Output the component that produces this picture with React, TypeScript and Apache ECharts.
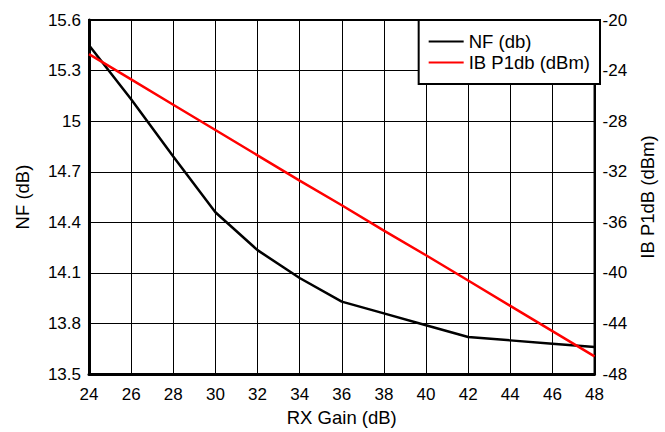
import React, { useEffect, useRef } from "react";
import * as echarts from "echarts";

const gains = [24, 26, 28, 30, 32, 34, 36, 38, 40, 42, 44, 46, 48];
const nfValues = [15.45, 15.13, 14.79, 14.46, 14.235, 14.07, 13.93, 13.86, 13.79, 13.72, 13.7, 13.68, 13.66];
const p1dbValues = [-22.7, -24.7, -26.7, -28.7, -30.7, -32.7, -34.65, -36.65, -38.6, -40.6, -42.6, -44.6, -46.6];
const seriesNames = ["NF (db)", "IB P1db (dBm)"];

const FONT = "Liberation Sans, Arial, Helvetica, sans-serif";
const FS = 17;
const FT = 18.5;

export default function App() {
  const ref = useRef<HTMLDivElement>(null);
  useEffect(() => {
    const chart = echarts.init(ref.current!, null, { renderer: "svg" });
    chart.setOption({
      animation: false,
      backgroundColor: "#ffffff",
      textStyle: { fontFamily: FONT, color: "#000" },
      grid: {
        left: 89,
        right: 65,
        top: 20,
        bottom: 52,
        show: true,
        borderColor: "#000",
        borderWidth: 2,
        containLabel: false,
      },
      legend: {
        top: 20,
        right: 65,
        orient: "vertical",
        backgroundColor: "#fff",
        borderColor: "#000",
        borderWidth: 2,
        borderRadius: 0,
        padding: [12, 10, 12, 10],
        itemGap: 2,
        itemWidth: 35,
        itemHeight: 14,
        icon: "path://M0,6 L35,6 L35,8 L0,8 Z",
        textStyle: { fontFamily: FONT, fontSize: FT, color: "#000" },
        data: seriesNames,
      },
      xAxis: {
        type: "value",
        min: 24,
        max: 48,
        interval: 2,
        name: "RX Gain (dB)",
        nameLocation: "middle",
        nameGap: 31,
        nameTextStyle: { fontFamily: FONT, fontSize: FT, color: "#000", lineHeight: 19 },
        axisLine: { show: true, lineStyle: { color: "#000", width: 3 } },
        axisTick: { show: false },
        axisLabel: { fontFamily: FONT, fontSize: FS, color: "#000", margin: 12 },
        splitLine: { show: true, lineStyle: { color: "#000", width: 1 } },
      },
      yAxis: [
        {
          type: "value",
          min: 13.5,
          max: 15.6,
          interval: 0.3,
          position: "left",
          name: "NF (dB)",
          nameLocation: "middle",
          nameGap: 57,
          nameTextStyle: { fontFamily: FONT, fontSize: FT, color: "#000", lineHeight: 19 },
          axisLine: { show: true, lineStyle: { color: "#000", width: 3 } },
          axisTick: { show: false },
          axisLabel: { fontFamily: FONT, fontSize: FS, color: "#000", margin: 8 },
          splitLine: { show: true, lineStyle: { color: "#000", width: 1 } },
        },
        {
          type: "value",
          min: -48,
          max: -20,
          interval: 4,
          position: "right",
          name: "IB P1dB (dBm)",
          nameLocation: "middle",
          nameGap: 42,
          nameTextStyle: { fontFamily: FONT, fontSize: FT, color: "#000", lineHeight: 19 },
          axisLine: { show: true, lineStyle: { color: "#000", width: 2 } },
          axisTick: { show: false },
          axisLabel: { fontFamily: FONT, fontSize: FS, color: "#000", margin: 8 },
          splitLine: { show: false },
        },
      ],
      series: [
        {
          name: seriesNames[0],
          type: "line",
          yAxisIndex: 0,
          data: gains.map((g, i) => [g, nfValues[i]]),
          showSymbol: false,
          symbol: "none",
          lineStyle: { color: "#000", width: 2.5 },
          itemStyle: { color: "#000" },
        },
        {
          name: seriesNames[1],
          type: "line",
          yAxisIndex: 1,
          data: gains.map((g, i) => [g, p1dbValues[i]]),
          showSymbol: false,
          symbol: "none",
          lineStyle: { color: "#ff0000", width: 2.5 },
          itemStyle: { color: "#ff0000" },
        },
      ],
    });
    return () => chart.dispose();
  }, []);
  return (
    <div style={{ position: "fixed", left: 0, top: 0, width: 665, height: 432, overflow: "hidden", background: "#fff" }}>
      <div ref={ref} style={{ width: 665, height: 432 }} />
    </div>
  );
}
